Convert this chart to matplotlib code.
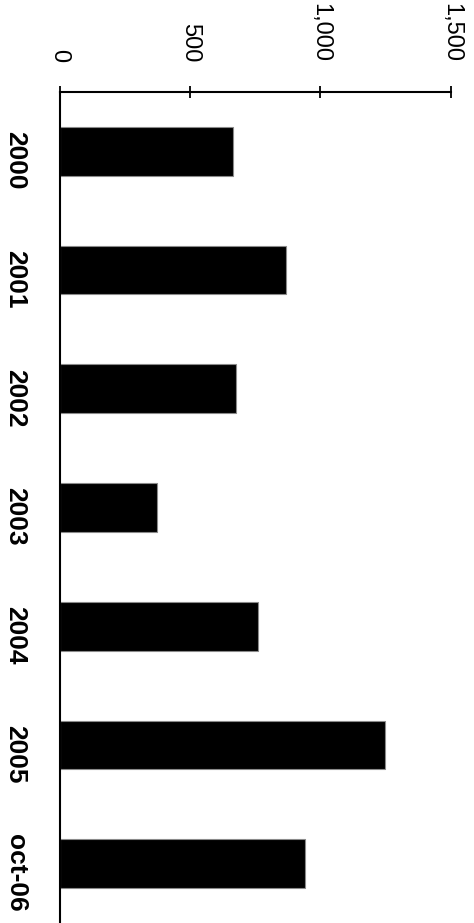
import matplotlib
matplotlib.use("Agg")
import matplotlib.pyplot as plt
import matplotlib.transforms as mtransforms
from matplotlib.ticker import FuncFormatter

categories = ["2000", "2001", "2002", "2003", "2004", "2005", "oct-06"]
values = [665, 868, 676, 373, 760, 1247, 941]
value_ticks = [0, 500, 1000, 1500]

W, H, DPI = 474, 923, 100
fig = plt.figure(figsize=(W / DPI, H / DPI), dpi=DPI)
fig.patch.set_facecolor("white")

left, right, top = 59.5, 451, 92
ax = fig.add_axes([left / W, 0.0, (right - left) / W, (H - top) / H])

pos = list(range(len(categories)))
ax.barh(pos, values, height=0.41, color="black", edgecolor="#8a8a8a",
        linewidth=0.8)

ax.set_xlim(0, 1500)
ax.set_ylim(len(categories) - 0.5, -0.5)

# value axis along the top
ax.xaxis.tick_top()
ax.set_xticks(value_ticks)
ax.xaxis.set_major_formatter(FuncFormatter(lambda v, p: f"{int(v):,}"))
ax.tick_params(axis="x", direction="inout", length=9, width=1.3, pad=17,
               labelsize=17, colors="black")
for lbl in ax.get_xticklabels():
    lbl.set_rotation(-90)
    lbl.set_fontfamily("Liberation Sans")

# category labels down the left side
ax.set_yticks(pos)
ax.set_yticklabels(categories)
ax.tick_params(axis="y", length=0, pad=23)
shift = mtransforms.ScaledTranslation(0, -9 / DPI, fig.dpi_scale_trans)
for lbl in ax.get_yticklabels():
    lbl.set_rotation(-90)
    lbl.set_fontfamily("Liberation Sans")
    lbl.set_fontweight("bold")
    lbl.set_fontsize(19)
    lbl.set_verticalalignment("center")
    lbl.set_transform(lbl.get_transform() + shift)

for side in ("right", "bottom"):
    ax.spines[side].set_visible(False)
for side in ("left", "top"):
    ax.spines[side].set_linewidth(1.5)

fig.savefig("out.png", dpi=DPI, facecolor="white")
